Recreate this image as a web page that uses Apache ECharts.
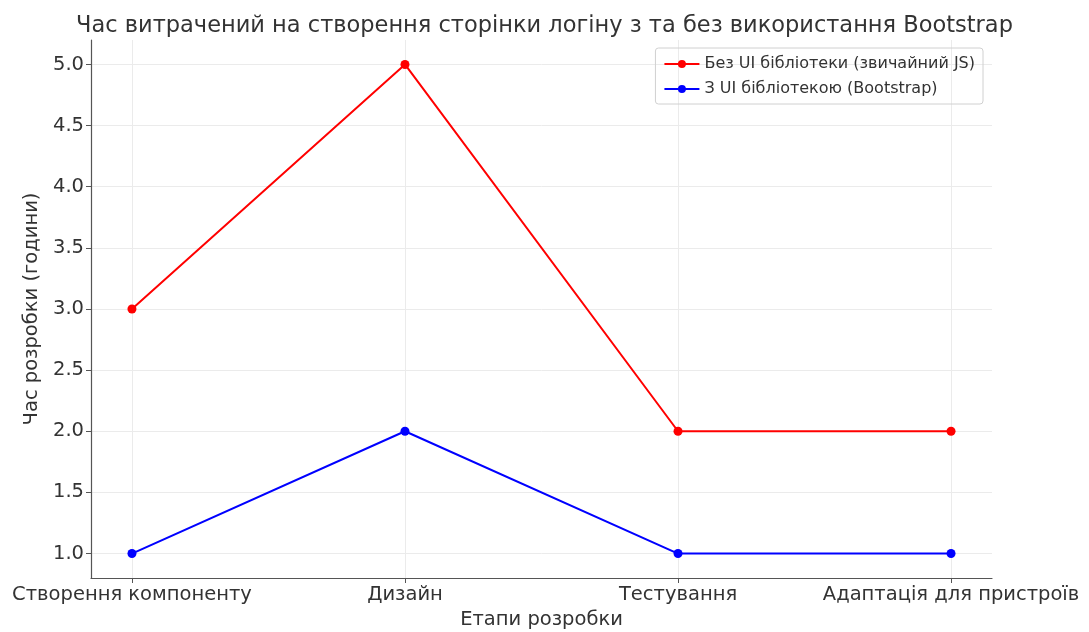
<!DOCTYPE html>
<html>
<head>
<meta charset="utf-8">
<script src="https://cdn.jsdelivr.net/npm/echarts@6/dist/echarts.min.js"></script>
<style>
  html, body { margin: 0; padding: 0; background: #fff; }
  #chart { width: 1089px; height: 632px; }
</style>
</head>
<body>
<div id="chart"></div>
<script>
var categories = ['Створення компоненту', 'Дизайн', 'Тестування', 'Адаптація для пристроїв'];
var noLibHours = [3, 5, 2, 2];
var bootstrapHours = [1, 2, 1, 1];
var yTicks = [1.0, 1.5, 2.0, 2.5, 3.0, 3.5, 4.0, 4.5, 5.0];

function toPoints(arr) {
    return arr.map(function (v, i) { return [i, v]; });
}

var myChart = echarts.init(document.getElementById('chart'));
var textColor = '#333333';
var fontFamily = 'DejaVu Sans';

var option = {
    animation: false,
    textStyle: { fontFamily: fontFamily },
    title: {
        text: 'Час витрачений на створення сторінки логіну з та без використання Bootstrap',
        left: 'center',
        top: 10,
        textStyle: { color: textColor, fontSize: 22.5, fontWeight: 'normal', fontFamily: fontFamily }
    },
    legend: {
        right: 106,
        top: 48,
        orient: 'vertical',
        itemGap: 9,
        itemWidth: 35,
        itemHeight: 10,
        padding: [8, 8, 7, 8],
        borderColor: '#d0d0d0',
        borderWidth: 1,
        borderRadius: 3,
        textStyle: { color: textColor, fontSize: 16, fontFamily: fontFamily },
        data: ['Без UI бібліотеки (звичайний JS)', 'З UI бібліотекою (Bootstrap)']
    },
    grid: { left: 91, right: 97, top: 40, bottom: 54, outerBoundsMode: 'none' },
    xAxis: {
        type: 'value',
        min: -0.15,
        max: 3.15,
        name: 'Етапи розробки',
        nameLocation: 'middle',
        nameGap: 31,
        nameTextStyle: { color: textColor, fontSize: 19.5, fontFamily: fontFamily },
        axisLine: { show: true, onZero: false, lineStyle: { color: '#555', width: 1.2 } },
        axisTick: { show: true, customValues: [0, 1, 2, 3], length: 5, lineStyle: { color: '#555' } },
        axisLabel: {
            customValues: [0, 1, 2, 3],
            color: textColor, fontSize: 19.5, fontFamily: fontFamily, margin: 7,
            formatter: function (v) { return categories[Math.round(v)]; }
        },
        splitLine: { show: true, lineStyle: { color: '#ebebeb', width: 1 } }
    },
    yAxis: {
        type: 'value',
        min: 0.8,
        max: 5.2,
        name: 'Час розробки (години)',
        nameLocation: 'middle',
        nameGap: 43,
        nameTextStyle: { color: textColor, fontSize: 19.5, fontFamily: fontFamily },
        axisLine: { show: true, onZero: false, lineStyle: { color: '#555', width: 1.2 } },
        axisTick: { show: true, customValues: yTicks, length: 5, lineStyle: { color: '#555' } },
        axisLabel: {
            customValues: yTicks,
            color: textColor, fontSize: 19.5, fontFamily: fontFamily, margin: 7,
            formatter: function (v) { return v.toFixed(1); }
        },
        splitLine: { show: true, lineStyle: { color: '#ebebeb', width: 1 } }
    },
    series: [
        {
            name: 'Без UI бібліотеки (звичайний JS)',
            type: 'line',
            data: toPoints(noLibHours),
            symbol: 'circle',
            symbolSize: 9,
            itemStyle: { color: '#ff0000' },
            lineStyle: { color: '#ff0000', width: 2 }
        },
        {
            name: 'З UI бібліотекою (Bootstrap)',
            type: 'line',
            data: toPoints(bootstrapHours),
            symbol: 'circle',
            symbolSize: 9,
            itemStyle: { color: '#0000ff' },
            lineStyle: { color: '#0000ff', width: 2 }
        }
    ]
};

myChart.setOption(option);
</script>
</body>
</html>
